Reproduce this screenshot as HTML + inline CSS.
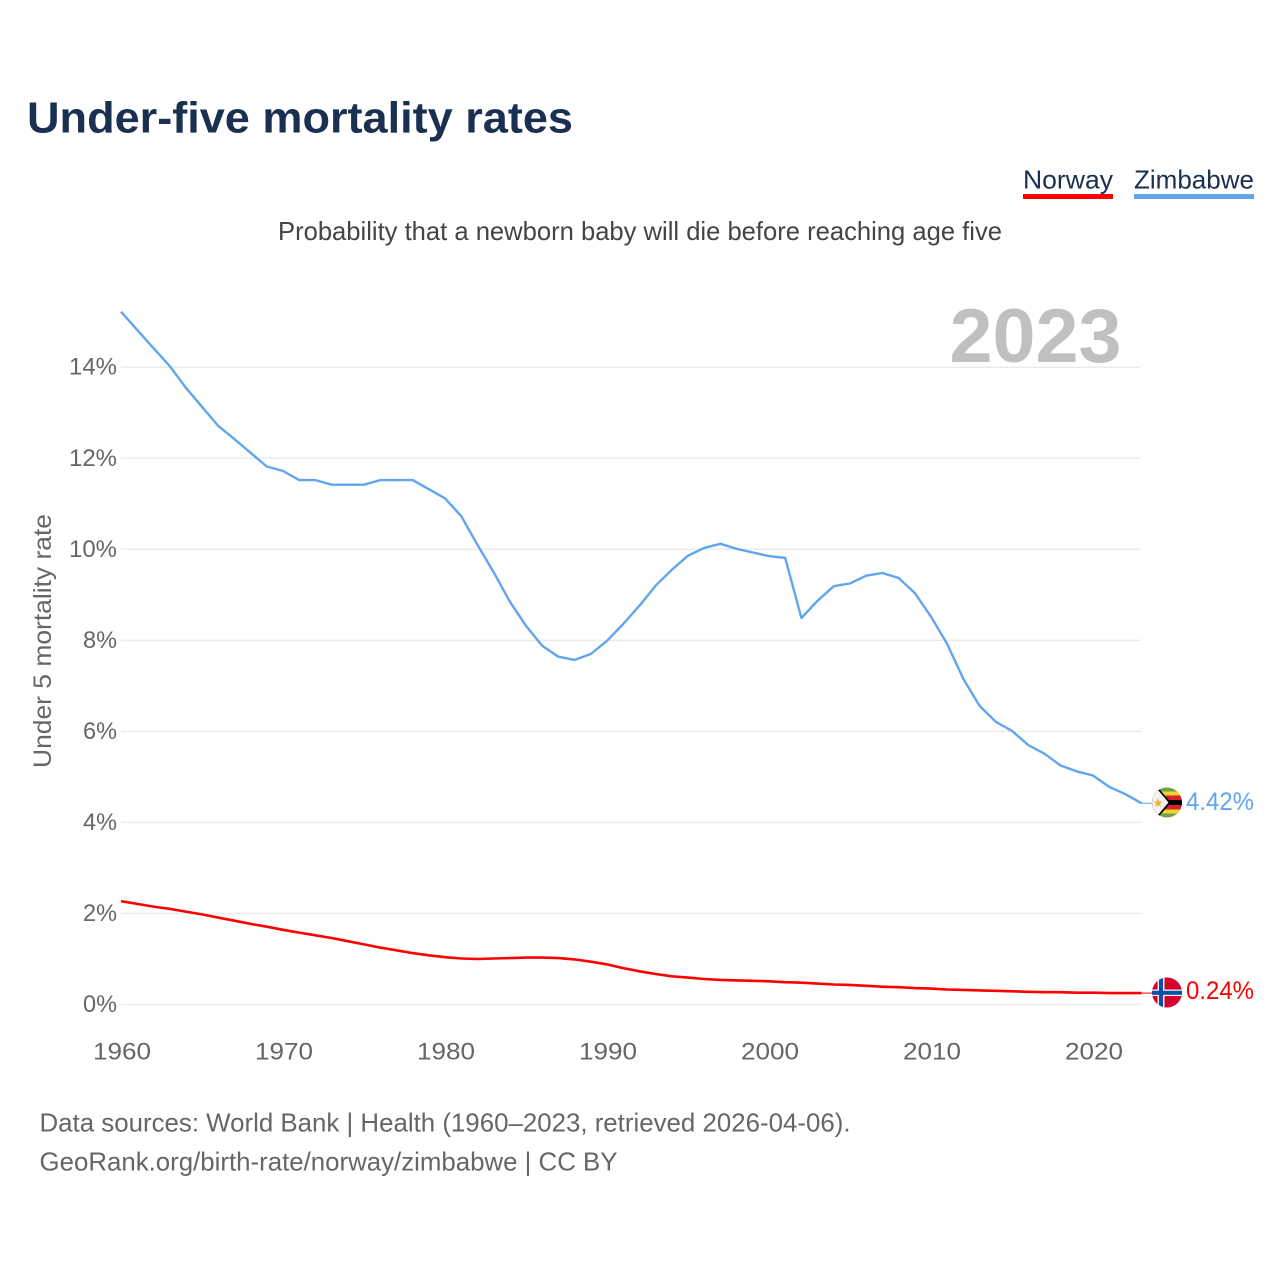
<!DOCTYPE html>
<html lang="en">
<head>
<meta charset="utf-8">
<title>Under-five mortality rates</title>
<style>
html,body{margin:0;padding:0;background:#fff;width:1280px;height:1280px;overflow:hidden}
svg{display:block;font-family:"Liberation Sans",sans-serif}
</style>
</head>
<body>
<svg id="chart" xmlns="http://www.w3.org/2000/svg" width="1280" height="1280" viewBox="0 0 1280 1280">
  <defs>
    <clipPath id="clip-zw"><circle cx="1167" cy="802.5" r="15"/></clipPath>
    <clipPath id="clip-no"><circle cx="1167" cy="992.5" r="15"/></clipPath>
  </defs>
  <rect width="1280" height="1280" fill="#fff"/>
  <text x="27" y="132.5" font-size="44" font-weight="700" fill="#1a3050" textLength="546" lengthAdjust="spacingAndGlyphs">Under-five mortality rates</text>
  <g>
    <text x="1023" y="188.5" font-size="26" fill="#1a3050" textLength="90" lengthAdjust="spacingAndGlyphs">Norway</text>
    <rect x="1023" y="194" width="90" height="5" fill="#ff0000"/>
  </g>
  <g>
    <text x="1134" y="188.5" font-size="26" fill="#1a3050" textLength="120" lengthAdjust="spacingAndGlyphs">Zimbabwe</text>
    <rect x="1134" y="194" width="120" height="5" fill="#60a5ee"/>
  </g>
  <text x="278" y="240" font-size="26" fill="#444" textLength="724" lengthAdjust="spacingAndGlyphs">Probability that a newborn baby will die before reaching age five</text>
  <g id="grid"></g>
  <g id="yticks"></g>
  <g id="xticks"></g>
  <text x="949.5" y="362" font-size="76" font-weight="700" fill="#c0c0c0" textLength="172" lengthAdjust="spacingAndGlyphs">2023</text>
  <text transform="translate(51,768) rotate(-90)" font-size="25" fill="#666" textLength="254" lengthAdjust="spacingAndGlyphs">Under 5 mortality rate</text>
  <g id="series"></g>
  <g clip-path="url(#clip-zw)">
    <rect x="1152" y="787.5" width="30" height="30" fill="#6fa04f"/>
    <rect x="1152" y="791.5" width="30" height="22" fill="#f5d327"/>
    <rect x="1152" y="795.5" width="30" height="14" fill="#d6202f"/>
    <rect x="1152" y="800" width="30" height="5" fill="#000"/>
    <polygon points="1152,787 1157.5,787 1171,802.5 1157.5,818 1152,818" fill="#000"/>
    <polygon points="1152,787 1155.5,787 1168.5,802.5 1155.5,818 1152,818" fill="#f2f2f2"/>
    <polygon points="1158,798 1159.3,801.5 1162.5,801.7 1160,803.8 1161,807 1158,805.2 1155.2,807 1156.1,803.8 1153.7,801.7 1156.8,801.5" fill="#f0b429"/>
  </g>
  <g clip-path="url(#clip-no)">
    <rect x="1152" y="977.5" width="30" height="30" fill="#d5002b"/>
    <rect x="1152" y="989.5" width="30" height="6.5" fill="#e8eef5"/>
    <rect x="1157.5" y="977.5" width="7" height="30" fill="#e8eef5"/>
    <rect x="1152" y="990.8" width="30" height="4" fill="#0a4fa8"/>
    <rect x="1159" y="977.5" width="4" height="30" fill="#0a4fa8"/>
  </g>
  <text x="1186" y="810" font-size="25" fill="#60a5ee" textLength="68" lengthAdjust="spacingAndGlyphs">4.42%</text>
  <text x="1186" y="999" font-size="25" fill="#ff0000" textLength="68" lengthAdjust="spacingAndGlyphs">0.24%</text>
  <text x="39.5" y="1131.5" font-size="26" fill="#666" textLength="811" lengthAdjust="spacingAndGlyphs">Data sources: World Bank | Health (1960–2023, retrieved 2026-04-06).</text>
  <text x="39.5" y="1170.5" font-size="26" fill="#666" textLength="578" lengthAdjust="spacingAndGlyphs">GeoRank.org/birth-rate/norway/zimbabwe | CC BY</text>
</svg>
<script>
const startYear = 1960;
const yTickValues = [0, 2, 4, 6, 8, 10, 12, 14];
const xTickValues = [1960, 1970, 1980, 1990, 2000, 2010, 2020];
const zimbabwe = [15.22,14.82,14.42,14.03,13.55,13.13,12.71,12.42,12.12,11.82,11.72,11.52,11.52,11.42,11.42,11.42,11.52,11.52,11.52,11.32,11.12,10.73,10.1,9.5,8.85,8.32,7.88,7.64,7.57,7.7,7.99,8.36,8.76,9.2,9.55,9.86,10.03,10.12,10.01,9.93,9.85,9.81,8.49,8.87,9.19,9.25,9.42,9.48,9.37,9.04,8.52,7.92,7.15,6.56,6.21,6.01,5.7,5.51,5.25,5.12,5.03,4.78,4.62,4.42];
const norway = [2.27,2.21,2.15,2.1,2.04,1.98,1.91,1.84,1.77,1.71,1.64,1.58,1.52,1.46,1.39,1.32,1.25,1.19,1.13,1.08,1.04,1.01,1,1.01,1.02,1.03,1.03,1.02,0.99,0.94,0.88,0.8,0.73,0.67,0.62,0.59,0.56,0.54,0.53,0.52,0.51,0.49,0.48,0.46,0.44,0.43,0.41,0.39,0.38,0.36,0.35,0.33,0.32,0.31,0.3,0.29,0.28,0.27,0.27,0.26,0.26,0.25,0.25,0.25];

const NS = 'http://www.w3.org/2000/svg';
const xScale = function (year) { return 121 + (year - 1960) * 16.2; };
const yScale = function (v) { return 1004.5 - v * 45.52; };
function make(tag, attrs, parent, text) {
  const el = document.createElementNS(NS, tag);
  for (const k in attrs) el.setAttribute(k, attrs[k]);
  if (text !== undefined) el.textContent = text;
  parent.appendChild(el);
  return el;
}
const gridG = document.getElementById('grid');
const yG = document.getElementById('yticks');
const xG = document.getElementById('xticks');
const seriesG = document.getElementById('series');

yTickValues.forEach(function (v) {
  const line = make('line', {x1: 121, x2: 1141, y1: yScale(v), y2: yScale(v), stroke: '#ebebeb', 'stroke-width': 1.5}, gridG);
  
  
  const label = v + '%';
  const t = make('text', {x: 117, y: yScale(v) + 7.5, 'text-anchor': 'end', 'font-size': 24, fill: '#666', textLength: v >= 10 ? 48 : 34, lengthAdjust: 'spacingAndGlyphs'}, yG, label);
  
  
});
xTickValues.forEach(function (yr) {
  const t = make('text', {x: xScale(yr) - 28, y: 1059.5, 'font-size': 24, fill: '#666', textLength: 58, lengthAdjust: 'spacingAndGlyphs'}, xG, String(yr));
  
  
});
function linePoints(values) {
  return values.map(function (v, i) { return xScale(startYear + i).toFixed(1) + ',' + yScale(v).toFixed(1); }).join(' ');
}
function lastY(values) { return yScale(values[values.length - 1]); }
function lastX(values) { return xScale(startYear + values.length - 1); }

const zwLine = make('polyline', {points: linePoints(zimbabwe), fill: 'none', stroke: '#60a5ee', 'stroke-width': 2.4, 'stroke-linejoin': 'round'}, seriesG);


const noLine = make('polyline', {points: linePoints(norway), fill: 'none', stroke: '#ff0000', 'stroke-width': 2.6, 'stroke-linejoin': 'round'}, seriesG);


const zwConn = make('line', {x1: lastX(zimbabwe), x2: 1153, y1: lastY(zimbabwe), y2: lastY(zimbabwe), stroke: '#60a5ee', 'stroke-width': 1}, seriesG);


const noConn = make('line', {x1: lastX(norway), x2: 1153, y1: lastY(norway), y2: lastY(norway), stroke: '#ff0000', 'stroke-width': 1}, seriesG);


</script>
</body>
</html>
